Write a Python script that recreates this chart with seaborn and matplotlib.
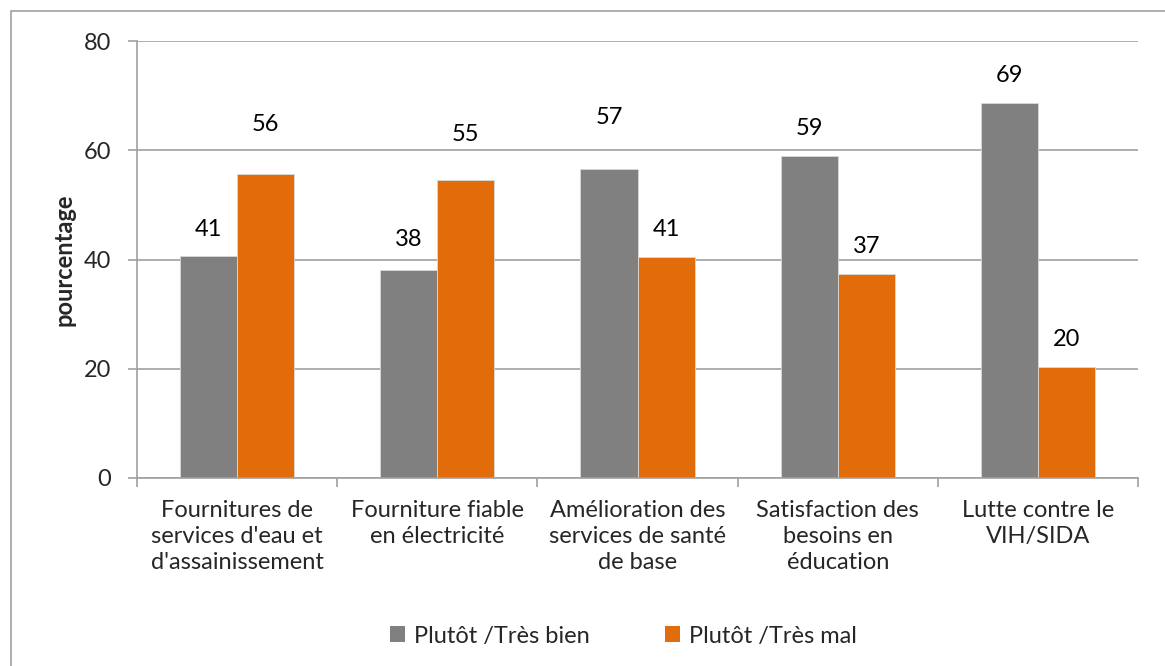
import matplotlib
matplotlib.use("Agg")
import matplotlib.pyplot as plt
from matplotlib.patches import Rectangle, Patch
import seaborn as sns
import pandas as pd

# données
categories = [
    "Fournitures de\nservices d'eau et\nd'assainissement",
    "Fourniture fiable\nen électricité",
    "Amélioration des\nservices de santé\nde base",
    "Satisfaction des\nbesoins en\néducation",
    "Lutte contre le\nVIH/SIDA",
]
series = ["Plutôt /Très bien", "Plutôt /Très mal"]
bien = [40.6, 38.0, 56.5, 59.0, 68.7]
mal = [55.7, 54.6, 40.5, 37.4, 20.4]
labels_bien = ["41", "38", "57", "59", "69"]
labels_mal = ["56", "55", "41", "37", "20"]
# décalage des étiquettes au-dessus des barres (pixels)
offs_bien = [27, 31, 52, 27, 27]
offs_mal = [49, 45, 27, 27, 27]

colors = ["#808080", "#E36C0A"]

df = pd.DataFrame({
    "cat": categories * 2,
    "serie": [series[0]] * 5 + [series[1]] * 5,
    "val": bien + mal,
})

sns.set_style("white")
plt.rcParams["font.family"] = ["Lato", "DejaVu Sans"]

fig = plt.figure(figsize=(11.65, 6.66), dpi=100)
ax = fig.add_axes([137 / 1165, 1 - 478 / 666, 1001 / 1165, 437 / 666])

sns.barplot(data=df, x="cat", y="val", hue="serie", palette=colors,
            width=0.57, ax=ax, legend=False, saturation=1,
            edgecolor="#D9D9D9", linewidth=0.6)

ax.set_xlim(-0.5, 4.5)
ax.set_ylim(0, 80)
ax.set_yticks([0, 20, 40, 60, 80])
ax.yaxis.grid(True, color="#A0A0A0", linewidth=1.2)
ax.set_axisbelow(True)

for s in ["top", "right"]:
    ax.spines[s].set_visible(False)
for s in ["left", "bottom"]:
    ax.spines[s].set_color("#A0A0A0")
    ax.spines[s].set_linewidth(1.2)

ax.tick_params(axis="y", which="major", length=6.5, width=1.2, color="#A0A0A0",
               labelsize=17, pad=12, left=True)
ax.set_xticks(range(5))
ax.set_xticklabels(categories, fontsize=17, linespacing=1.3)
ax.tick_params(axis="x", which="major", length=0, pad=16)
ax.set_xticks([-0.5, 0.5, 1.5, 2.5, 3.5, 4.5], minor=True)
ax.tick_params(axis="x", which="minor", length=6.5, width=1.2, color="#A0A0A0",
               bottom=True)

ax.set_xlabel("")
ax.set_ylabel("pourcentage", fontsize=17, fontweight="bold", labelpad=6)

# étiquettes de valeur
conts = ax.containers
for cont, labs, offs in [(conts[0], labels_bien, offs_bien), (conts[1], labels_mal, offs_mal)]:
    for bar, lab, off in zip(cont, labs, offs):
        ax.annotate(lab, (bar.get_x() + bar.get_width() / 2, bar.get_height()),
                    xytext=(0, off), textcoords="offset pixels",
                    ha="center", va="center", fontsize=17, color="#000000")

handles = [Patch(facecolor=c, edgecolor="none") for c in colors]
fig.legend(handles, series, loc="center", bbox_to_anchor=(0.535, 1 - 636 / 666),
           ncol=2, frameon=False, fontsize=17, handlelength=0.65, handleheight=0.65,
           handletextpad=0.35, columnspacing=3.2)

# cadre du graphique
fig.patches.append(Rectangle((11 / 1165, -0.1), 1.2, 1 - 11 / 666 + 0.1,
                             transform=fig.transFigure, fill=False,
                             edgecolor="#A0A0A0", linewidth=1.2))

fig.savefig("out.png", dpi=100)
